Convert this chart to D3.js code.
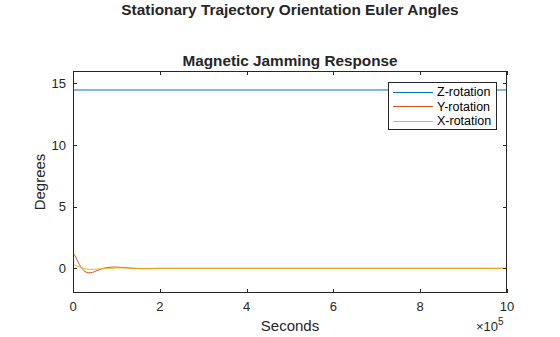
<!DOCTYPE html>
<html><head><meta charset="utf-8">
<script src="https://cdn.jsdelivr.net/npm/d3@7"></script>
<style>body{margin:0;background:#fff}svg{display:block}text{font-family:"Liberation Sans",Arial,Helvetica,sans-serif}</style>
</head><body>
<svg id="c" width="560" height="337"></svg>
<script>
const figTitle = "Stationary Trajectory Orientation Euler Angles";
const axTitle = "Magnetic Jamming Response";
const xLabel = "Seconds";
const yLabel = "Degrees";
const seriesNames = ["Z-rotation","Y-rotation","X-rotation"];
const seriesColors = ["#0072BD","#D95319","#EDB120"];
const xTicks = [0,2,4,6,8,10];
const yTicks = [0,5,10,15];
// time in units of 1e5 seconds
const tZ = [0, 10];
const zVals = [14.46, 14.46];
const tY = [0,0.05,0.1,0.15,0.2,0.25,0.3,0.35,0.4,0.45,0.5,0.6,0.7,0.8,0.9,1.0,1.1,1.2,1.4,1.6,1.8,2.0,3.0,10];
const yVals = [1.25,1.0,0.65,0.3,0.02,-0.18,-0.3,-0.35,-0.36,-0.33,-0.26,-0.12,0.0,0.07,0.1,0.1,0.08,0.05,0.0,-0.03,-0.02,0,0,0];
const tX = [0,0.05,0.1,0.2,0.3,0.4,0.5,0.6,0.8,1.0,1.2,1.5,2.0,3.0,10];
const xVals = [0.3,0.25,0.18,0.05,-0.05,-0.08,-0.08,-0.05,0.0,0.03,0.03,0.0,0,0,0];

const svg = d3.select("#c");
const L=73,R=507,T=71,B=293;
const x = d3.scaleLinear().domain([0,10]).range([L,R]);
const y = d3.scaleLinear().domain([-2,16]).range([B,T]);

svg.append("clipPath").attr("id","cp").append("rect").attr("x",L).attr("y",T).attr("width",R-L).attr("height",B-T);

const line = d3.line().x(d=>x(d[0])).y(d=>y(d[1])).curve(d3.curveMonotoneX);
const series = [d3.zip(tZ,zVals), d3.zip(tY,yVals), d3.zip(tX,xVals)];
const lg = svg.append("g").attr("clip-path","url(#cp)");
[0,1,2].forEach(i=>{
  lg.append("path").datum(series[i]).attr("d",line)
    .attr("fill","none").attr("stroke",seriesColors[i]).attr("stroke-width",1);
});

// axes
const ax = svg.append("g");
const tickStyle = s=>s.attr("stroke","#262626").attr("stroke-width",1);
ax.append("rect").attr("x",L+0.5).attr("y",T+0.5).attr("width",R-L-1).attr("height",B-T-1)
  .attr("fill","none").attr("stroke","#262626").attr("stroke-width",1);
xTicks.forEach(v=>{
  const px = Math.round(x(v))+0.5;
  ax.append("line").attr("x1",px).attr("x2",px).attr("y1",B).attr("y2",B-4).call(tickStyle);
  ax.append("line").attr("x1",px).attr("x2",px).attr("y1",T).attr("y2",T+4).call(tickStyle);
  ax.append("text").attr("x",x(v)).attr("y",B+18).attr("text-anchor","middle")
    .attr("font-size",13).attr("fill","#262626").text(v);
});
yTicks.forEach(v=>{
  const py = Math.round(y(v))+0.5;
  ax.append("line").attr("x1",L).attr("x2",L+4).attr("y1",py).attr("y2",py).call(tickStyle);
  ax.append("line").attr("x1",R).attr("x2",R-4).attr("y1",py).attr("y2",py).call(tickStyle);
  ax.append("text").attr("x",L-7).attr("y",y(v)+4.5).attr("text-anchor","end")
    .attr("font-size",13).attr("fill","#262626").text(v);
});
// exponent
const ex = ax.append("text").attr("x",476).attr("y",331).attr("font-size",13).attr("fill","#262626");
ex.append("tspan").text("×10");
ex.append("tspan").attr("dy",-6).attr("font-size",10).text("5");

svg.append("text").attr("x",(L+R)/2).attr("y",331).attr("text-anchor","middle")
  .attr("font-size",15).attr("fill","#262626").text(xLabel);
svg.append("text").attr("transform",`translate(45,${(T+B)/2}) rotate(-90)`).attr("text-anchor","middle")
  .attr("font-size",15).attr("fill","#262626").text(yLabel);
svg.append("text").attr("x",290).attr("y",15).attr("text-anchor","middle")
  .attr("font-size",15.4).attr("font-weight","bold").attr("fill","#262626").text(figTitle);
svg.append("text").attr("x",290).attr("y",66).attr("text-anchor","middle")
  .attr("font-size",15.3).attr("font-weight","bold").attr("fill","#262626").text(axTitle);

// legend
const lgX=388, lgY=82, lgW=108, lgH=47;
const leg = svg.append("g");
leg.append("rect").attr("x",lgX+0.5).attr("y",lgY+0.5).attr("width",lgW).attr("height",lgH)
  .attr("fill","#fff").attr("stroke","#262626").attr("stroke-width",1);
seriesNames.forEach((n,i)=>{
  const yy = lgY+9.5+i*14.5;
  leg.append("line").attr("x1",lgX+5).attr("x2",lgX+45).attr("y1",Math.round(yy)+0.5).attr("y2",Math.round(yy)+0.5)
    .attr("stroke",seriesColors[i]).attr("stroke-width",1);
  leg.append("text").attr("x",lgX+49).attr("y",yy+4.5).attr("font-size",12.5).attr("fill","#000").text(n);
});
</script>
</body></html>
